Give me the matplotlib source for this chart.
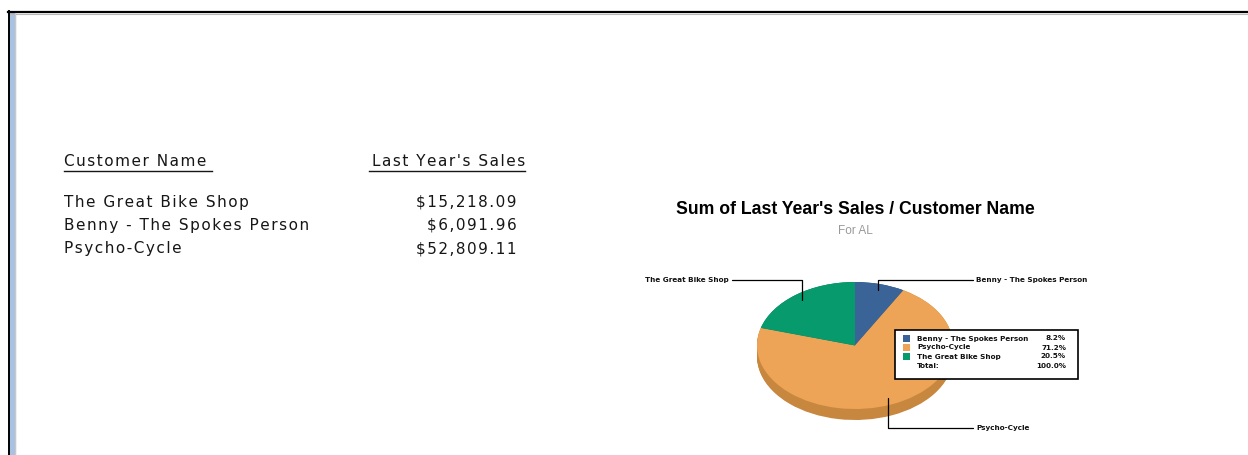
import matplotlib
matplotlib.use("Agg")
import matplotlib.pyplot as plt
import numpy as np

# report data
customers = ["The Great Bike Shop", "Benny - The Spokes Person", "Psycho-Cycle"]
sales = [15218.09, 6091.96, 52809.11]
region = "AL"

# pie order (alphabetical, as in the legend)
pie_names = sorted(customers)
pie_values = [sales[customers.index(n)] for n in pie_names]
pie_colors = ["#3a6497", "#eda456", "#079a6c"]
side_colors = ["#2c4d75", "#c8873f", "#067553"]

W, H = 1248, 455
fig = plt.figure(figsize=(W / 100, H / 100), dpi=100)


def tracked(s):
    # widen letter spacing with hair spaces
    return "\u200a".join(s)


# overlay axes in pixel units (origin top-left), kept above the pie
ov = fig.add_axes([0, 0, 1, 1])
ov.set_xlim(0, W)
ov.set_ylim(H, 0)
ov.axis("off")
ov.set_zorder(2)

# window frame
ov.plot([8, W], [11.5, 11.5], color="black", lw=1.6)
ov.plot([8, W], [13.5, 13.5], color="#b8b8b8", lw=0.8)
ov.plot([8.5, 8.5], [11, H], color="black", lw=1.4)
ov.fill_between([10, 14.5], 13, H, color="#a9c1e3")
ov.plot([15, 15], [13, H], color="#c8c8c8", lw=0.8)

# report table
font = dict(family="DejaVu Sans", fontsize=11.0, color="#161616")
ov.text(64, 161, tracked("Customer Name"), ha="left", va="center", **font)
ov.text(525, 161, tracked("Last Year's Sales"), ha="right", va="center", **font)
ov.plot([64, 212], [170.5, 170.5], color="#161616", lw=1)
ov.plot([369, 525], [170.5, 170.5], color="#161616", lw=1)
for i, (name, val) in enumerate(zip(customers, sales)):
    y = 202 + i * 23.5
    ov.text(64, y, tracked(name), ha="left", va="center", **font)
    ov.text(517, y, tracked("${:,.2f}".format(val)), ha="right", va="center", **font)

# chart titles
ov.text(855, 209, "Sum of Last Year's Sales / Customer Name", ha="center", va="center",
        family="Liberation Sans", fontsize=12.7, fontweight="bold", color="black")
ov.text(855, 231, "For " + region, ha="center", va="center",
        family="Liberation Sans", fontsize=8.5, color="#999999")

# pie axes: squashed ellipse with a rim
left, right, top, face_bottom, rim_bottom = 757, 953, 282, 409, 420
ry = (face_bottom - top) / 2
depth = (rim_bottom - face_bottom) / ry
pax = fig.add_axes([left / W, (H - rim_bottom) / H, (right - left) / W, (rim_bottom - top) / H])
for k in np.linspace(depth, 0, 14):
    pax.pie(pie_values, colors=side_colors, startangle=90, counterclock=False,
            center=(0, -k), radius=1, wedgeprops=dict(linewidth=0))
wedges, _ = pax.pie(pie_values, colors=pie_colors, startangle=90, counterclock=False,
                    radius=1, wedgeprops=dict(linewidth=0))
pax.set_aspect("auto")
pax.set_xlim(-1, 1)
pax.set_ylim(-1 - depth, 1)
pax.axis("off")

# leader lines from wedge midpoints
label_pos = {
    "The Great Bike Shop": (729, 280, "right"),
    "Benny - The Spokes Person": (976, 280, "left"),
    "Psycho-Cycle": (976, 428, "left"),
}
for w, name in zip(wedges, pie_names):
    mid = np.deg2rad((w.theta1 + w.theta2) / 2)
    r = 0.9
    x, y, ha = label_pos[name]
    pax.annotate(name, xy=(r * np.cos(mid), r * np.sin(mid)), xycoords="data",
                 xytext=(x, H - y), textcoords="figure pixels", ha=ha, va="center",
                 fontsize=5.2, fontweight="bold", family="DejaVu Sans", color="#111111",
                 annotation_clip=False,
                 arrowprops=dict(arrowstyle="-", color="black", lw=0.9,
                                 shrinkA=0, shrinkB=0,
                                 relpos=(1, 0.5) if ha == "right" else (0, 0.5),
                                 connectionstyle="angle,angleA=0,angleB=90,rad=0"))

# legend box with percentages
total = sum(pie_values)
ov.add_patch(plt.Rectangle((895, 330), 183, 49, facecolor="white", edgecolor="black",
                           lw=1.2, zorder=5))
leg_font = dict(family="DejaVu Sans", fontsize=5.2, fontweight="bold", color="#111111",
                va="center", zorder=6)
for i, (name, val, c) in enumerate(zip(pie_names, pie_values, pie_colors)):
    y = 338.5 + i * 9
    ov.add_patch(plt.Rectangle((903, y - 3.5), 7, 7, facecolor=c, edgecolor="none", zorder=6))
    ov.text(917, y, name, ha="left", **leg_font)
    ov.text(1066, y, "{:.1%}".format(val / total), ha="right", **leg_font)
ov.text(917, 365.5, "Total:", ha="left", **leg_font)
ov.text(1066, 365.5, "{:.1%}".format(1.0), ha="right", **leg_font)

fig.savefig("out.png", dpi=100)
